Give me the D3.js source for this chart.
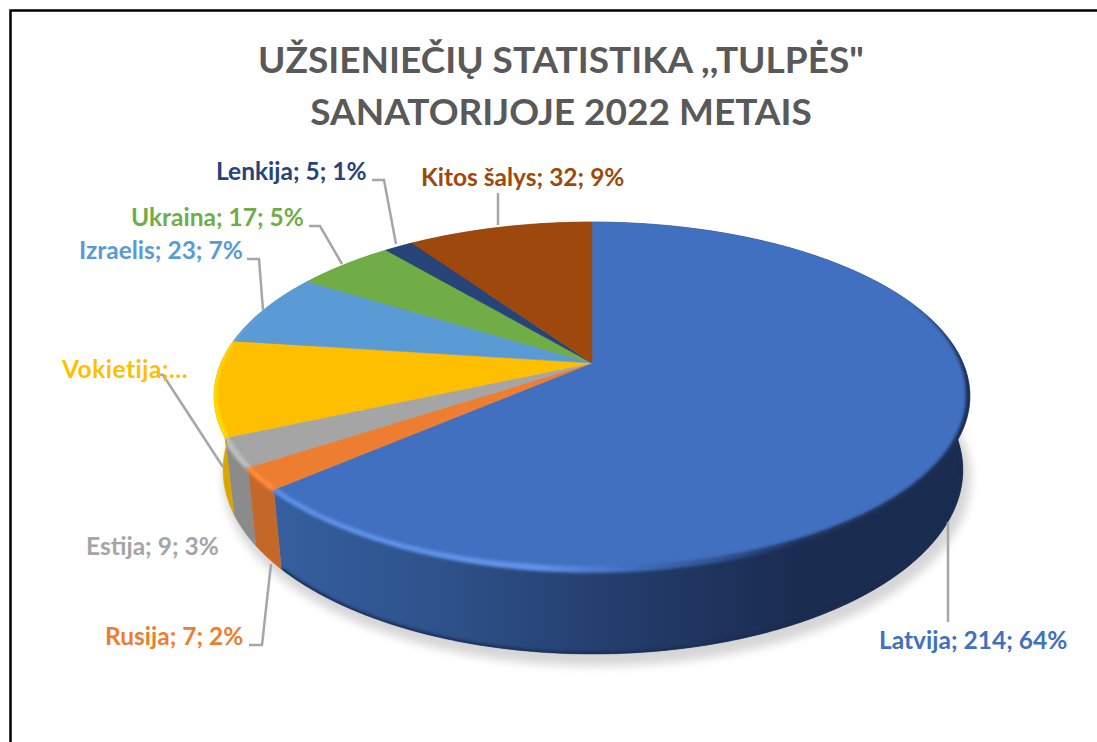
<!DOCTYPE html>
<html>
<head>
<meta charset="utf-8">
<script src="https://cdn.jsdelivr.net/npm/d3@7"></script>
<style>
  html, body { margin: 0; padding: 0; background: #fff; overflow: hidden; }
  text { font-family: Lato, "Open Sans", sans-serif; font-weight: 700; }
</style>
</head>
<body>
<svg id="chart" width="1097" height="742"></svg>
<script>
const categories = ['Latvija', 'Rusija', 'Estija', 'Vokietija', 'Izraelis', 'Ukraina', 'Lenkija', 'Kitos šalys'];
const counts = [214, 7, 9, 30, 23, 17, 5, 32];
const topColors = ['#4170c0', '#ed7d31', '#a5a5a5', '#fdbf00', '#5b9bd5', '#70ad47', '#264478', '#9e480e'];
const wallColors = ['url(#wallBlue)', '#c4682a', '#8b8b8b', '#dba500', '#4d84b5', '#5f933c', '#203a66', '#863d0c'];
const rimColors = ['url(#rimBlue)', '#ff8a3c', '#bdbdbd', '#ffdc00', '#6fb0ec', '#80c452', '#2e5290', '#b5520f'];
const titleLines = ['UŽSIENIEČIŲ STATISTIKA ,,TULPĖS"', 'SANATORIJOJE 2022 METAIS'];

// where labels and leader lines sit
const labelSpots = {
  'Latvija': { x: 879, y: 649, line: [[948, 522], [948, 622]] },
  'Rusija': { x: 105, y: 645, line: [[249, 645], [262, 645], [271, 564]] },
  'Estija': { x: 86, y: 555, line: null },
  'Vokietija': { x: 62, y: 378, line: [[157, 374], [163, 375], [223, 467]], short: 'Vokietija;...', spacing: 0.5 },
  'Izraelis': { x: 79, y: 259, line: [[247, 259], [259, 259], [263, 310]] },
  'Ukraina': { x: 131, y: 226, line: [[309, 226], [320, 226], [342, 264]] },
  'Lenkija': { x: 216, y: 180, line: [[372, 180], [384, 180], [396, 244]] },
  'Kitos šalys': { x: 421, y: 186, line: [[498, 193], [498, 225]] }
};

const svg = d3.select('#chart');
const total = d3.sum(counts);

// the disc is seen in perspective, hub sits above the middle of the top ellipse
const hub = { x: 592, y: 363 };
const persp = -0.19, radX = 371, radY = 167.7;
const faceMid = { x: 591, y: 396 };

function topPoint(angle) {
  const u = Math.sin(angle), v = -Math.cos(angle);
  const w = 1 + persp * v;
  return [hub.x + radX * u / w, hub.y + radY * v / w];
}

// bottom rim is another ellipse, a bit narrower and lower
function bottomPoint(angle) {
  const p = topPoint(angle);
  return [592 + (p[0] - faceMid.x) * 370 / 378, 470 + (p[1] - faceMid.y) * 184 / 174];
}

function sampleAngles(a0, a1) {
  const n = Math.max(2, Math.ceil((a1 - a0) / 0.01));
  return d3.range(n + 1).map(i => a0 + (a1 - a0) * i / n);
}

// point moved off the rim along the line from the ellipse middle
function rimOffset(angle, px) {
  const p = topPoint(angle);
  const dx = p[0] - faceMid.x, dy = p[1] - faceMid.y;
  const len = Math.hypot(dx, dy);
  return [p[0] + dx / len * px, p[1] + dy / len * px];
}

// bevel gets thin towards the back of the disc
const bevelFrom = 1.15, bevelTo = 5.1;
const bevelWidth = d3.scaleLinear()
  .domain([bevelFrom, 1.75, 4.4, bevelTo])
  .range([0, 4, 4, 0])
  .clamp(true);

const line = d3.line();
const pie = d3.pie().sort(null).startAngle(0).endAngle(2 * Math.PI);
const slices = pie(counts).map((d, i) => ({ ...d, name: categories[i], i: i }));

const defs = svg.append('defs');

const wallBlue = defs.append('linearGradient').attr('id', 'wallBlue')
  .attr('gradientUnits', 'userSpaceOnUse')
  .attr('x1', 275).attr('x2', 800).attr('y1', 0).attr('y2', 0);
[[0, '#355f9f'], [0.35, '#2d5088'], [0.65, '#243d6c'], [1, '#1a2c50']].forEach(s => {
  wallBlue.append('stop').attr('offset', s[0]).attr('stop-color', s[1]);
});

const rimBlue = defs.append('linearGradient').attr('id', 'rimBlue')
  .attr('gradientUnits', 'userSpaceOnUse')
  .attr('x1', 275).attr('x2', 900).attr('y1', 0).attr('y2', 0);
[[0, '#5c8fe6'], [0.42, '#5f93ea'], [0.56, '#4170c0'], [0.7, '#2f5596'], [0.84, '#1d3158'], [1, '#1a2c50']].forEach(s => {
  rimBlue.append('stop').attr('offset', s[0]).attr('stop-color', s[1]);
});

const soft = defs.append('filter').attr('id', 'soft')
  .attr('x', '-10%').attr('y', '-10%').attr('width', '120%').attr('height', '120%');
soft.append('feGaussianBlur').attr('stdDeviation', 1.6);

const shadowBlur = defs.append('filter').attr('id', 'shadowBlur')
  .attr('x', '-10%').attr('y', '-10%').attr('width', '120%').attr('height', '120%');
shadowBlur.append('feGaussianBlur').attr('stdDeviation', 5);

const topClip = defs.append('clipPath').attr('id', 'discClip');
topClip.append('path').attr('d', () => {
  const all = sampleAngles(0, 2 * Math.PI);
  return line(all.map(topPoint)) + 'Z' + line(all.map(bottomPoint)) + 'Z';
});

// frame, only top and left are in the crop
svg.append('path')
  .attr('d', line([[10.5, 742], [10.5, 10.5], [1097, 10.5]]))
  .attr('fill', 'none').attr('stroke', '#000').attr('stroke-width', 2.5);

svg.selectAll('text.title')
  .data(titleLines)
  .join('text')
  .attr('class', 'title')
  .attr('x', 561)
  .attr('y', (d, i) => 73 + i * 52)
  .attr('text-anchor', 'middle')
  .attr('font-size', 37)
  .attr('fill', '#595959')
  .text(d => d);

// ground shadow
svg.append('path')
  .attr('d', line(sampleAngles(0, 2 * Math.PI).map(bottomPoint)) + 'Z')
  .attr('transform', 'translate(4,8)')
  .attr('fill', '#000')
  .attr('stroke', '#000')
  .attr('stroke-width', 8)
  .attr('opacity', 0.16)
  .attr('filter', 'url(#shadowBlur)');

// outer wall
svg.selectAll('path.wall')
  .data(slices)
  .join('path')
  .attr('class', 'wall')
  .attr('d', d => {
    const angles = sampleAngles(d.startAngle, d.endAngle);
    return line(angles.map(topPoint).concat(angles.slice().reverse().map(bottomPoint))) + 'Z';
  })
  .attr('fill', (d, i) => wallColors[i])
  .attr('stroke', (d, i) => wallColors[i])
  .attr('stroke-width', 0.5);

// darker lip along the bottom of the blue wall
svg.append('g').attr('clip-path', 'url(#discClip)')
  .append('path')
  .attr('d', line(sampleAngles(1.3, slices[0].endAngle).map(bottomPoint)))
  .attr('fill', 'none')
  .attr('stroke', '#1a2c50')
  .attr('stroke-width', 4)
  .attr('filter', 'url(#soft)');

// top face
svg.selectAll('path.face')
  .data(slices)
  .join('path')
  .attr('class', 'face')
  .attr('d', d => line([[hub.x, hub.y]].concat(sampleAngles(d.startAngle, d.endAngle).map(topPoint))) + 'Z')
  .attr('fill', (d, i) => topColors[i])
  .attr('stroke', (d, i) => topColors[i])
  .attr('stroke-width', 0.5);

// bevel along the rim, not on the back edge of the disc
svg.append('g').attr('clip-path', 'url(#discClip)')
  .selectAll('path.bevel')
  .data(slices.filter(d => d.startAngle < bevelTo && d.endAngle > bevelFrom))
  .join('path')
  .attr('class', 'bevel')
  .attr('d', d => {
    const angles = sampleAngles(Math.max(d.startAngle, bevelFrom), Math.min(d.endAngle, bevelTo));
    const outer = angles.map(a => rimOffset(a, bevelWidth(a) * 0.7));
    const inner = angles.slice().reverse().map(a => rimOffset(a, -bevelWidth(a)));
    return line(outer.concat(inner)) + 'Z';
  })
  .attr('fill', d => rimColors[d.i])
  .attr('filter', 'url(#soft)');

// leader lines
svg.selectAll('path.leader')
  .data(slices.filter(d => labelSpots[d.name].line))
  .join('path')
  .attr('class', 'leader')
  .attr('d', d => line(labelSpots[d.name].line))
  .attr('fill', 'none')
  .attr('stroke', '#a6a6a6')
  .attr('stroke-width', 2.5);

svg.selectAll('text.label')
  .data(slices)
  .join('text')
  .attr('class', 'label')
  .attr('x', d => labelSpots[d.name].x)
  .attr('y', d => labelSpots[d.name].y)
  .attr('font-size', 24.5)
  .attr('letter-spacing', d => labelSpots[d.name].spacing || 0)
  .attr('fill', (d, i) => topColors[i])
  .text(d => labelSpots[d.name].short || `${d.name}; ${d.value}; ${Math.round(d.value / total * 100)}%`);
</script>
</body>
</html>
